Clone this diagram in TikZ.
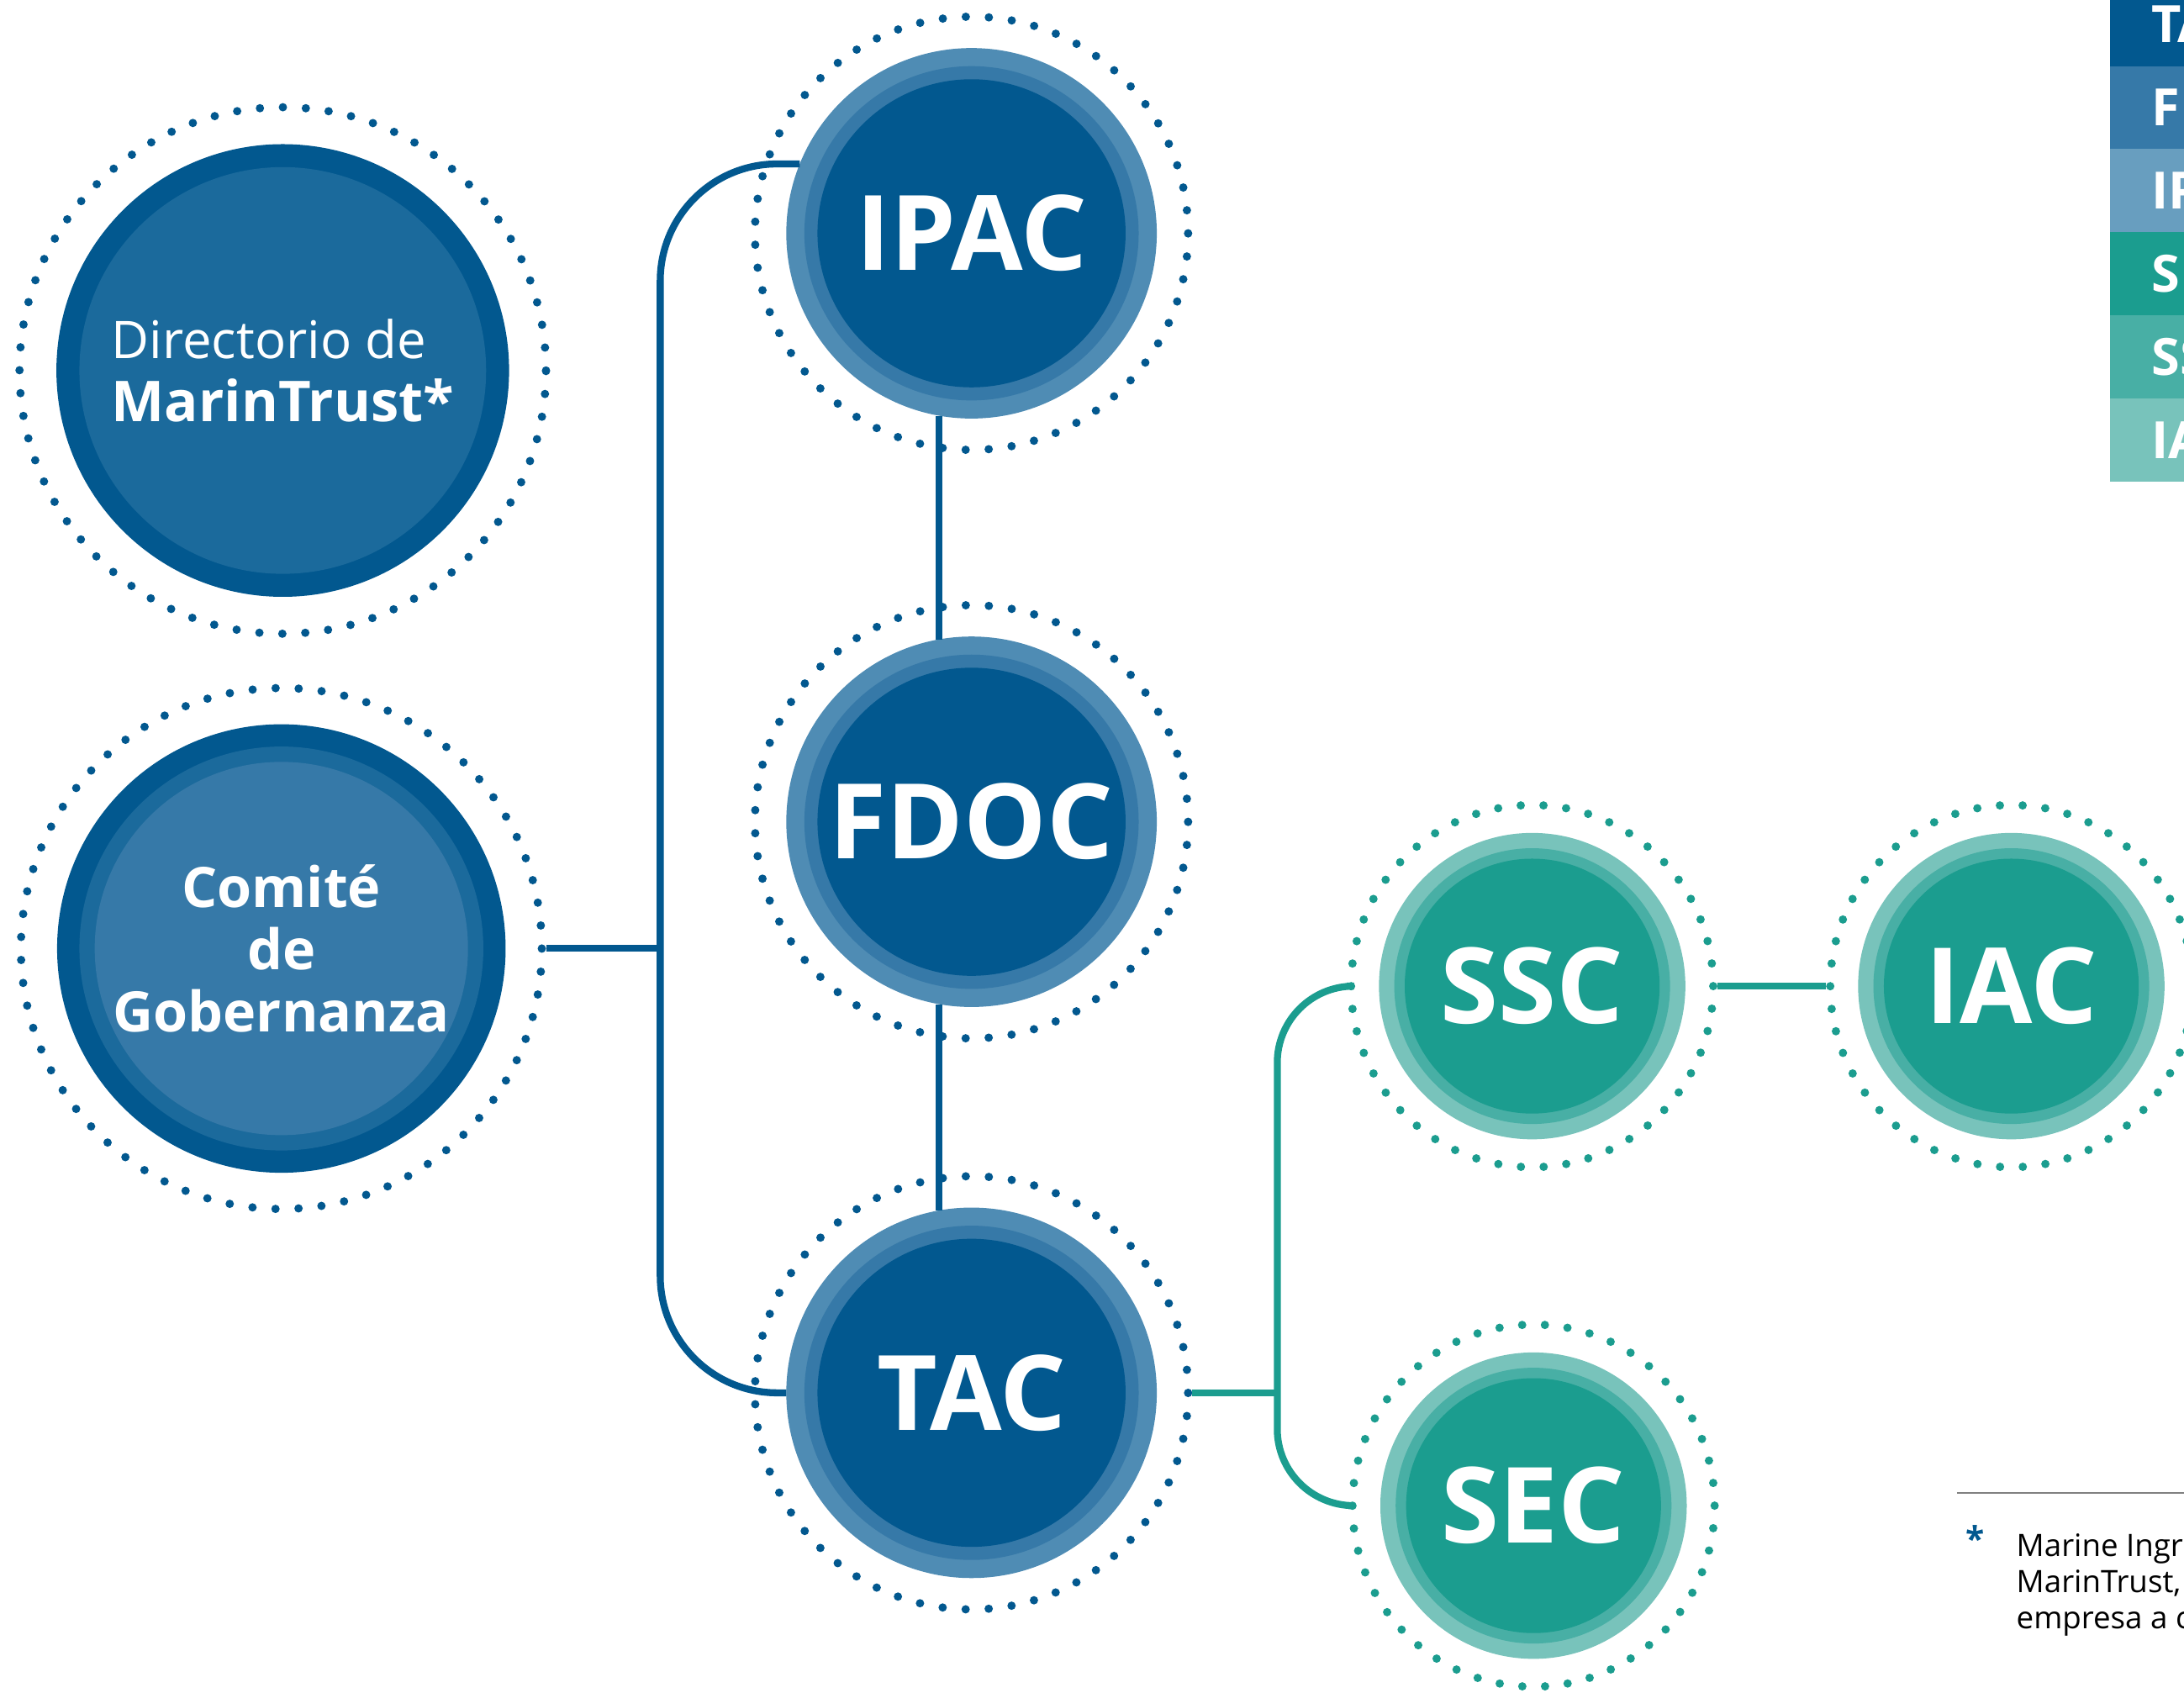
\documentclass[tikz,border=0pt]{standalone}
\usepackage{fontspec}
\setmainfont{Open Sans}
\usepackage{tikz}

\definecolor{mtblue}{HTML}{02588F}
\definecolor{mtbluemid}{HTML}{3679A8}
\definecolor{mtbluelight}{HTML}{4F8CB4}
\definecolor{mtbluedir}{HTML}{1B6A9C}
\definecolor{mtbluepale}{HTML}{689EBF}
\definecolor{mtteal}{HTML}{1B9D8F}
\definecolor{mttealmid}{HTML}{48AFA5}
\definecolor{mtteallight}{HTML}{78C3BB}
\definecolor{mtrule}{HTML}{808080}

\tikzstyle{blueline} = [mtblue, line width=0.5mm]
\tikzstyle{tealline} = [mtteal, line width=0.5mm]
\tikzstyle{dotring} = [circle, inner sep=0pt, line width=0.6mm, line cap=round, text=white]
\tikzstyle{dircomm} = [dotring, draw=mtblue, minimum size=3.78cm,
    dash pattern=on 0pt off 0.1649cm, align=left,
    font=\fontsize{10.6}{12.9}\selectfont,
    path picture={
        \fill[mtblue] (path picture bounding box.center) circle (1.625);
        \fill[mtbluedir] (path picture bounding box.center) circle (1.46);}]
\tikzstyle{govcomm} = [dotring, draw=mtblue, minimum size=3.74cm,
    dash pattern=on 0pt off 0.1655cm, align=center,
    font=\fontsize{11.4}{12.7}\selectfont\bfseries,
    path picture={
        \fill[mtblue] (path picture bounding box.center) circle (1.61);
        \fill[mtbluedir] (path picture bounding box.center) circle (1.45);
        \fill[mtbluemid] (path picture bounding box.center) circle (1.34);}]
\tikzstyle{bigcomm} = [dotring, draw=mtblue, minimum size=3.11cm,
    dash pattern=on 0pt off 0.1656cm,
    font=\fontsize{21.3}{25}\selectfont\bfseries,
    path picture={
        \fill[mtbluelight] (path picture bounding box.center) circle (1.33);
        \fill[mtbluemid] (path picture bounding box.center) circle (1.20);
        \fill[mtblue] (path picture bounding box.center) circle (1.106);}]
\tikzstyle{smallcomm} = [dotring, draw=mtteal, minimum size=2.6cm,
    dash pattern=on 0pt off 0.1634cm,
    font=\fontsize{21.5}{25}\selectfont\bfseries,
    path picture={
        \fill[mtteallight] (path picture bounding box.center) circle (1.10);
        \fill[mttealmid] (path picture bounding box.center) circle (0.99);
        \fill[mtteal] (path picture bounding box.center) circle (0.915);}]
\tikzstyle{keyrow} = [anchor=north west, minimum height=0.597cm, text width=2cm,
    inner xsep=0.3cm, inner ysep=0pt, align=left, text=white,
    font=\fontsize{10.5}{12}\selectfont\bfseries]

\begin{document}
\begin{tikzpicture}
        \useasboundingbox (0,0) rectangle (15.68,-12.155);
        \clip (0,0) rectangle (15.68,-12.155);
        % committees
        \node (dir)[dircomm] at (2.03,-2.66)
            {Directorio de\\{\fontsize{11.5}{12.9}\selectfont\bfseries MarinTrust*}};
        \node (comite)[govcomm] at (2.02,-6.81) {Comité\\de\\Gobernanza};
        \node (ipac)[bigcomm] at (6.975,-1.675) {IPAC};
        \node (fdoc)[bigcomm] at (6.975,-5.90) {FDOC};
        \node (tac)[bigcomm] at (6.975,-10.00) {TAC};
        \node (ssc)[smallcomm] at (11.00,-7.08) {SSC};
        \node (iac)[smallcomm] at (14.44,-7.08) {IAC};
        \node (sec)[smallcomm] at (11.01,-10.81) {SEC};
        % connectors
        \coordinate (bspine) at (4.74,-6.81);
        \coordinate (tspine) at (9.17,-10.00);
        \draw [blueline] (comite.east) -- (bspine);
        \draw [blueline, rounded corners=0.84cm] ([shift={(-1.233,0.498)}]ipac.center)
            -| (bspine |- tac.center) -- ([xshift=-1.33cm]tac.center);
        \draw [blueline] ([shift={(-0.235,-1.31)}]ipac.center) -- ([shift={(-0.235,1.31)}]fdoc.center);
        \draw [blueline] ([shift={(-0.235,-1.31)}]fdoc.center) -- ([shift={(-0.235,1.31)}]tac.center);
        \draw [tealline] (tac.east) -- (tspine);
        \draw [tealline, rounded corners=0.55cm] (ssc.west) -| (tspine |- sec.west) -- (sec.west);
        \draw [tealline] (ssc.east) -- (iac.west);
        % key
        \node (keytac)[keyrow, fill=mtblue] at (15.14,0.13) {TAC};
        \node (keyfdoc)[keyrow, fill=mtbluemid] at (15.14,-0.467) {FDOC};
        \node (keyipac)[keyrow, fill=mtbluepale] at (15.14,-1.064) {IPAC};
        \node (keysec)[keyrow, fill=mtteal] at (15.14,-1.661) {SEC};
        \node (keyssc)[keyrow, fill=mttealmid] at (15.14,-2.258) {SSC};
        \node (keyiac)[keyrow, fill=mtteallight] at (15.14,-2.855) {IAC};
        % footnote
        \coordinate (rulea) at (14.05,-10.72);
        \coordinate (ruleb) at (15.68,-10.72);
        \draw [mtrule, line width=0.12mm] (rulea) -- (ruleb);
        \node (star)[anchor=base, inner sep=0pt, text=mtblue,
            font=\fontsize{7}{8}\selectfont\bfseries] at (14.18,-11.14) {*};
        \node (note)[anchor=north west, align=left, inner sep=0pt,
            font=\fontsize{6.3}{7.4}\selectfont] at (14.47,-11.0)
            {Marine Ingredients\\MarinTrust,\\empresa a cargo};
    \end{tikzpicture}
\end{document}
